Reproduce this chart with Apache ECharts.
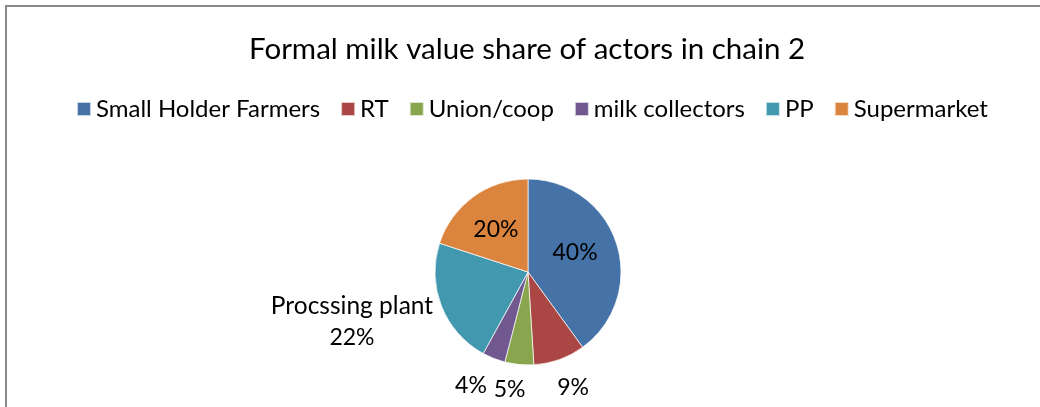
<!DOCTYPE html>
<html>
<head>
<meta charset="utf-8">
<script src="https://cdn.jsdelivr.net/npm/echarts@6/dist/echarts.min.js"></script>
<style>
  html, body { margin: 0; padding: 0; background: #fff; }
  #chart { width: 1040px; height: 407px; }
</style>
</head>
<body>
<div id="chart"></div>
<script>
  // actors in chain 2, clockwise from 12 o'clock
  var actors = ['Small Holder Farmers', 'RT', 'Union/coop', 'milk collectors', 'PP', 'Supermarket'];
  var shares = [40, 9, 5, 4, 22, 20];
  var labelNames = ['', '', '', '', 'Procssing plant', ''];
  var insideLabels = [true, false, false, false, false, true];
  var colors = ['#4572A7', '#AA4643', '#89A54E', '#71588F', '#4198AF', '#DB843D'];
  // small nudges of the labels (dx, dy), like excel puts them
  var labelShift = [[0, -4], [-10, 21], [12, 17], [1, 20], [4, 13], [-3, -2]];

  var font = 'Lato, "Open Sans", sans-serif';

  var myChart = echarts.init(document.getElementById('chart'));

  var pieData = actors.map(function (name, i) {
    return {
      name: name,
      value: shares[i],
      label: {
        position: insideLabels[i] ? 'inside' : 'outside',
        formatter: labelNames[i] ? '{n|' + labelNames[i] + '}\n{p|' + shares[i] + '%}' : '{p|' + shares[i] + '%}'
      }
    };
  });

  var option = {
    animation: false,
    color: colors,
    title: {
      text: 'Formal milk value share of actors in chain 2',
      left: 244,
      top: 29,
      textStyle: {
        fontFamily: font,
        fontSize: 29.5,
        fontWeight: 'normal',
        color: '#000'
      }
    },
    legend: {
      top: 92,
      left: 71,
      icon: 'rect',
      itemWidth: 14,
      itemHeight: 14,
      itemGap: 20,
      data: actors,
      textStyle: {
        fontFamily: font,
        fontSize: 24,
        color: '#000'
      }
    },
    graphic: [{
      type: 'rect',
      shape: { x: 6, y: 6, width: 1200, height: 600 },
      style: { fill: 'none', stroke: '#898989', lineWidth: 2 },
      silent: true
    }],
    series: [{
      type: 'pie',
      center: [528, 272],
      radius: 93,
      startAngle: 90,
      clockwise: true,
      avoidLabelOverlap: false,
      itemStyle: {
        borderColor: 'rgba(255,255,255,0.7)',
        borderWidth: 1
      },
      label: {
        fontFamily: font,
        color: '#000',
        rich: {
          n: { fontFamily: font, fontSize: 24.5, lineHeight: 32, color: '#000' },
          p: { fontFamily: font, fontSize: 23, lineHeight: 32, color: '#000' }
        }
      },
      labelLine: { show: false, length: 8, length2: 0 },
      labelLayout: function (params) {
        var s = labelShift[params.dataIndex];
        var r = params.labelRect;
        return {
          x: r.x + r.width / 2 + s[0],
          y: r.y + r.height / 2 + s[1],
          align: 'center',
          verticalAlign: 'middle',
          hideOverlap: false
        };
      },
      data: pieData
    }]
  };

  myChart.setOption(option);
</script>
</body>
</html>
